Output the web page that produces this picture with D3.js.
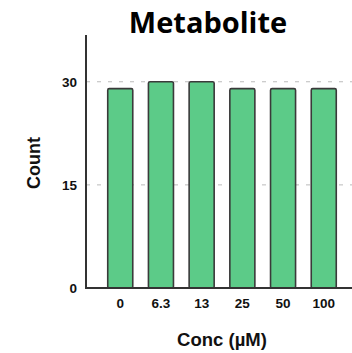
<!DOCTYPE html>
<html>
<head>
<meta charset="utf-8">
<script src="https://cdn.jsdelivr.net/npm/d3@7"></script>
<style>
  html, body { margin: 0; padding: 0; background: #fff; }
  svg { display: block; }
</style>
</head>
<body>
<svg id="chart" width="352" height="353"></svg>
<script>
// Concentration groups and their counts
const categories = ["0", "6.3", "13", "25", "50", "100"];
const counts = [29, 30, 30, 29, 29, 29];
const yTicks = [0, 15, 30];

const svg = d3.select("#chart");
const axisX = 86, baseY = 288, topY = 35;
const labelFont = "Liberation Sans, Arial, sans-serif";

const x = d3.scaleBand()
  .domain(categories)
  .range([100, 344])
  .paddingInner(0.385)
  .paddingOuter(0.19);

const y = d3.scaleLinear()
  .domain([0, 36.8])
  .range([baseY, topY]);

// dashed reference lines
svg.append("g")
  .selectAll("line")
  .data(yTicks.filter(d => d > 0))
  .join("line")
  .attr("x1", axisX).attr("x2", 352)
  .attr("y1", d => y(d)).attr("y2", d => y(d))
  .attr("stroke", "#bbb")
  .attr("stroke-width", 1)
  .attr("stroke-dasharray", "4,7");

// bars
svg.append("g")
  .selectAll("rect")
  .data(categories.map((c, i) => ({ c, v: counts[i] })))
  .join("rect")
  .attr("x", d => x(d.c))
  .attr("y", d => y(d.v))
  .attr("width", x.bandwidth())
  .attr("height", d => y(0) - y(d.v))
  .attr("rx", 1.5)
  .attr("fill", "#5ccb88")
  .attr("stroke", "#3a3a3a")
  .attr("stroke-width", 1.6);

// y axis
const yAxis = d3.axisLeft(y).tickValues(yTicks).tickSize(0).tickPadding(9);
const gy = svg.append("g").attr("transform", `translate(${axisX},0)`).call(yAxis);
gy.select(".domain").remove();
gy.selectAll("text")
  .attr("font-family", labelFont)
  .attr("font-weight", "bold")
  .attr("font-size", 13.5)
  .attr("fill", "#111");
svg.append("line")
  .attr("x1", axisX).attr("x2", axisX)
  .attr("y1", topY).attr("y2", baseY + 1)
  .attr("stroke", "#333").attr("stroke-width", 2);

// x axis
const xAxis = d3.axisBottom(x).tickSize(0).tickPadding(10);
const gx = svg.append("g").attr("transform", `translate(0,${baseY})`).call(xAxis);
gx.select(".domain").remove();
gx.selectAll("text")
  .attr("font-family", labelFont)
  .attr("font-weight", "bold")
  .attr("font-size", 13.5)
  .attr("fill", "#111");
svg.append("line")
  .attr("x1", axisX - 1).attr("x2", 352)
  .attr("y1", baseY).attr("y2", baseY)
  .attr("stroke", "#333").attr("stroke-width", 2);

// title and axis labels
svg.append("text")
  .attr("x", 208).attr("y", 33)
  .attr("text-anchor", "middle")
  .attr("font-family", "Open Sans, sans-serif")
  .attr("font-weight", "bold")
  .attr("font-size", 29)
  .attr("fill", "#000")
  .text("Metabolite");

svg.append("text")
  .attr("transform", "translate(40,163) rotate(-90)")
  .attr("text-anchor", "middle")
  .attr("font-family", labelFont)
  .attr("font-weight", "bold")
  .attr("font-size", 18)
  .attr("fill", "#111")
  .text("Count");

svg.append("text")
  .attr("x", 222).attr("y", 346)
  .attr("text-anchor", "middle")
  .attr("font-family", labelFont)
  .attr("font-weight", "bold")
  .attr("font-size", 18.5)
  .attr("fill", "#111")
  .text("Conc (µM)");
</script>
</body>
</html>
